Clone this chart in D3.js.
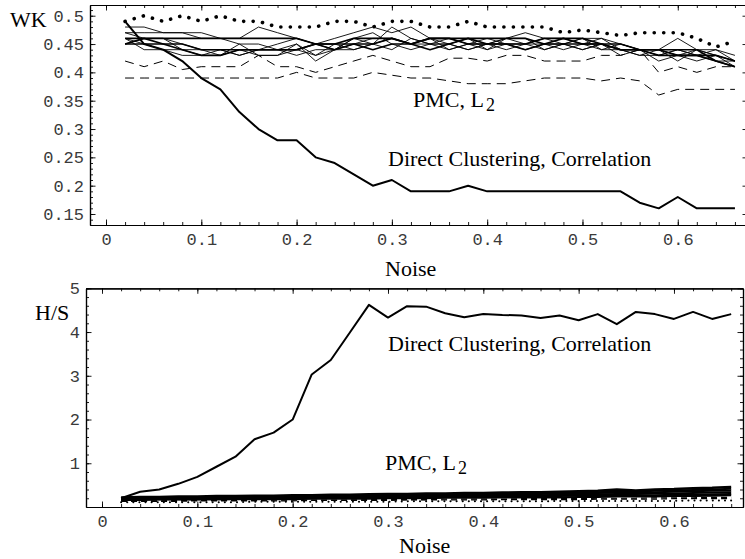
<!DOCTYPE html>
<html>
<head>
<meta charset="UTF-8" />
<script src="https://d3js.org/d3.v7.min.js"></script>
<title>WK and H/S vs Noise</title>
<style>
  body { margin: 0; background: white; }
  svg { display: block; }
  .lbl { font-family: "Liberation Serif", "Times New Roman", serif; font-size: 22px; fill: black; }
</style>
</head>
<body>
<svg id="chart" width="745" height="559"></svg>
<script>
// noise levels (x)
const noise = [0.02,0.04,0.06,0.08,0.10,0.12,0.14,0.16,0.18,0.20,0.22,0.24,0.26,0.28,0.30,0.32,0.34,
               0.36,0.38,0.40,0.42,0.44,0.46,0.48,0.50,0.52,0.54,0.56,0.58,0.60,0.62,0.64,0.66];

// ---- top panel: WK ----
const wkDirect = [0.49,0.45,0.44,0.42,0.39,0.37,0.33,0.30,0.28,0.28,0.25,0.24,0.22,0.20,0.21,0.19,0.19,
                  0.19,0.20,0.19,0.19,0.19,0.19,0.19,0.19,0.19,0.19,0.17,0.16,0.18,0.16,0.16,0.16];
const wkDotted = [0.49,0.50,0.49,0.50,0.49,0.50,0.49,0.49,0.48,0.48,0.48,0.49,0.49,0.48,0.49,0.49,0.48,
                  0.48,0.49,0.48,0.48,0.48,0.48,0.47,0.475,0.47,0.465,0.47,0.47,0.47,0.46,0.445,0.455];
const wkDashA = [0.42,0.41,0.42,0.405,0.41,0.41,0.41,0.43,0.41,0.41,0.40,0.41,0.42,0.43,0.42,0.41,0.41,
                 0.425,0.425,0.42,0.43,0.43,0.42,0.42,0.42,0.43,0.43,0.44,0.40,0.41,0.40,0.41,0.41];
const wkDashB = [0.39,0.39,0.39,0.39,0.39,0.39,0.39,0.39,0.39,0.40,0.39,0.39,0.39,0.40,0.395,0.39,0.39,
                 0.385,0.38,0.38,0.38,0.385,0.39,0.39,0.39,0.385,0.39,0.385,0.36,0.37,0.37,0.37,0.37];
const wkThin = [
  [0.48,0.48,0.47,0.47,0.47,0.46,0.46,0.48,0.47,0.46,0.45,0.46,0.47,0.48,0.47,0.48,0.46,
   0.45,0.44,0.45,0.46,0.47,0.46,0.46,0.45,0.46,0.44,0.43,0.44,0.46,0.44,0.44,0.43],
  [0.47,0.46,0.46,0.45,0.44,0.44,0.43,0.44,0.45,0.46,0.45,0.44,0.46,0.47,0.45,0.44,0.45,
   0.46,0.45,0.44,0.46,0.45,0.44,0.45,0.46,0.44,0.45,0.44,0.43,0.44,0.43,0.44,0.42],
  [0.46,0.45,0.44,0.44,0.43,0.43,0.44,0.43,0.43,0.45,0.42,0.44,0.45,0.46,0.46,0.45,0.45,
   0.45,0.44,0.45,0.44,0.45,0.46,0.45,0.44,0.45,0.44,0.43,0.43,0.44,0.43,0.42,0.42],
  [0.47,0.47,0.47,0.47,0.46,0.46,0.45,0.45,0.44,0.45,0.43,0.45,0.44,0.45,0.48,0.46,0.45,
   0.44,0.45,0.46,0.45,0.44,0.45,0.45,0.46,0.46,0.45,0.44,0.44,0.43,0.44,0.43,0.42],
  [0.45,0.46,0.46,0.44,0.44,0.43,0.45,0.43,0.43,0.44,0.43,0.44,0.44,0.45,0.44,0.46,0.45,
   0.45,0.46,0.44,0.45,0.45,0.45,0.44,0.45,0.44,0.44,0.44,0.42,0.43,0.42,0.43,0.42],
  [0.46,0.44,0.44,0.43,0.43,0.44,0.43,0.44,0.44,0.43,0.44,0.44,0.46,0.45,0.46,0.45,0.46,
   0.44,0.45,0.45,0.46,0.46,0.44,0.45,0.44,0.45,0.43,0.44,0.44,0.42,0.44,0.43,0.41]
];
const wkThick = [
  [0.46,0.46,0.46,0.46,0.46,0.46,0.46,0.46,0.46,0.46,0.45,0.45,0.46,0.46,0.46,0.45,0.46,
   0.46,0.46,0.46,0.46,0.46,0.45,0.45,0.45,0.45,0.44,0.44,0.44,0.43,0.43,0.43,0.42],
  [0.45,0.45,0.45,0.44,0.43,0.43,0.44,0.44,0.44,0.44,0.45,0.44,0.45,0.45,0.46,0.45,0.44,
   0.45,0.46,0.45,0.45,0.44,0.45,0.46,0.45,0.45,0.44,0.44,0.43,0.43,0.43,0.42,0.41],
  [0.45,0.46,0.45,0.45,0.44,0.44,0.44,0.44,0.44,0.44,0.45,0.45,0.45,0.44,0.45,0.45,0.46,
   0.46,0.45,0.45,0.45,0.45,0.46,0.46,0.46,0.45,0.45,0.44,0.44,0.44,0.44,0.42,0.41]
];

// ---- bottom panel: H/S ----
const hsDirect = [0.20,0.35,0.40,0.53,0.69,0.92,1.15,1.55,1.70,2.00,3.03,3.36,3.99,4.62,4.33,4.59,4.58,
                  4.43,4.34,4.41,4.39,4.38,4.32,4.38,4.27,4.41,4.18,4.46,4.41,4.30,4.46,4.30,4.41];
const hsSolid = [
  [0.22,0.23,0.23,0.24,0.24,0.25,0.25,0.26,0.26,0.27,0.27,0.28,0.28,0.29,0.30,0.30,0.31,
   0.31,0.32,0.32,0.33,0.34,0.34,0.35,0.36,0.37,0.40,0.38,0.40,0.41,0.43,0.44,0.46],
  [0.20,0.21,0.21,0.22,0.22,0.23,0.23,0.24,0.24,0.25,0.25,0.26,0.26,0.27,0.27,0.28,0.28,
   0.29,0.29,0.30,0.31,0.31,0.32,0.33,0.34,0.34,0.36,0.35,0.37,0.38,0.39,0.40,0.42],
  [0.19,0.20,0.20,0.21,0.21,0.21,0.22,0.22,0.23,0.23,0.24,0.24,0.25,0.25,0.26,0.26,0.27,
   0.27,0.28,0.28,0.29,0.29,0.30,0.31,0.31,0.32,0.33,0.33,0.34,0.35,0.36,0.37,0.38],
  [0.18,0.19,0.19,0.19,0.20,0.20,0.20,0.21,0.21,0.21,0.22,0.22,0.23,0.23,0.23,0.24,0.24,
   0.25,0.25,0.26,0.26,0.27,0.27,0.28,0.28,0.29,0.30,0.30,0.31,0.31,0.32,0.33,0.34],
  [0.17,0.17,0.18,0.18,0.18,0.19,0.19,0.19,0.20,0.20,0.20,0.21,0.21,0.21,0.22,0.22,0.22,
   0.23,0.23,0.24,0.24,0.24,0.25,0.25,0.26,0.26,0.27,0.27,0.27,0.28,0.28,0.29,0.30],
  [0.16,0.16,0.17,0.17,0.17,0.17,0.18,0.18,0.18,0.18,0.19,0.19,0.19,0.19,0.20,0.20,0.20,
   0.21,0.21,0.21,0.22,0.22,0.22,0.22,0.23,0.23,0.24,0.24,0.24,0.25,0.25,0.26,0.27]
];
const hsDash = [
  [0.14,0.14,0.14,0.15,0.15,0.15,0.15,0.15,0.16,0.16,0.16,0.16,0.16,0.17,0.17,0.17,0.17,
   0.18,0.18,0.18,0.18,0.19,0.19,0.19,0.19,0.20,0.20,0.20,0.21,0.21,0.21,0.22,0.22],
  [0.13,0.13,0.13,0.13,0.14,0.14,0.14,0.14,0.14,0.14,0.15,0.15,0.15,0.15,0.15,0.16,0.16,
   0.16,0.16,0.16,0.17,0.17,0.17,0.17,0.17,0.18,0.18,0.18,0.18,0.19,0.19,0.19,0.19]
];
const hsDotted = [0.11,0.11,0.11,0.11,0.11,0.11,0.11,0.12,0.12,0.12,0.12,0.12,0.12,0.12,0.12,0.13,0.13,
                  0.13,0.13,0.13,0.13,0.13,0.13,0.14,0.14,0.14,0.14,0.14,0.14,0.14,0.15,0.15,0.15];

// tick labels
const xTicks = [0,0.1,0.2,0.3,0.4,0.5,0.6];
const xTickLabels = ["0","0.1","0.2","0.3","0.4","0.5","0.6"];
const wkTicks = [0.15,0.2,0.25,0.3,0.35,0.4,0.45,0.5];
const wkTickLabels = ["0.15","0.2","0.25","0.3","0.35","0.4","0.45","0.5"];
const hsTicks = [1,2,3,4,5];
const hsTickLabels = ["1","2","3","4","5"];

const svg = d3.select("#chart");
svg.append("rect").attr("width", 745).attr("height", 559).attr("fill", "white");

function frame(g, x, y, xMinor, yMinor, xLab, yLab, pad) {
  const [x0, x1] = x.range();
  const [y0, y1] = y.range();
  const styleText = sel => sel.selectAll("text")
    .attr("font-family", "'Liberation Mono', 'Courier New', monospace")
    .attr("font-size", 17).attr("fill", "#3a3a3a");
  [[d3.axisBottom, y0, true], [d3.axisTop, y1, false]].forEach(([ax, pos, lab]) => {
    g.append("g").attr("transform", `translate(0,${pos})`)
      .call(ax(x).tickValues(xMinor).tickSize(-3).tickSizeOuter(0).tickFormat(""));
    const a = g.append("g").attr("transform", `translate(0,${pos})`)
      .call(ax(x).tickValues(xTicks).tickSize(-5.5).tickSizeOuter(0).tickPadding(8)
        .tickFormat((d, i) => lab ? xLab[i] : ""));
    styleText(a);
  });
  [[d3.axisLeft, x0, true], [d3.axisRight, x1, false]].forEach(([ax, pos, lab]) => {
    g.append("g").attr("transform", `translate(${pos},0)`)
      .call(ax(y).tickValues(yMinor).tickSize(-3).tickSizeOuter(0).tickFormat(""));
    const a = g.append("g").attr("transform", `translate(${pos},0)`)
      .call(ax(y).tickValues(yLab.vals).tickSize(-5.5).tickSizeOuter(0).tickPadding(pad)
        .tickFormat((d, i) => lab ? yLab.text[i] : ""));
    styleText(a);
  });
  g.selectAll(".domain").attr("stroke", "black").attr("stroke-width", 1.2);
  g.selectAll(".tick line").attr("stroke", "black").attr("stroke-width", 0.9);
}

function drawLine(g, x, y, vals, opts) {
  const line = d3.line().x((d, i) => x(noise[i])).y(d => y(d));
  g.append("path").datum(vals)
    .attr("d", line).attr("fill", "none").attr("stroke", "black")
    .attr("stroke-width", opts.w).attr("stroke-linejoin", "round")
    .attr("stroke-dasharray", opts.dash || null)
    .attr("stroke-linecap", opts.cap || "butt");
}

// ---- top panel ----
const xTop = d3.scaleLinear().domain([-0.0168, 0.6737]).range([90, 748]);
const yTop = d3.scaleLinear().domain([0.1306, 0.5189]).range([225, 5]);
const gTop = svg.append("g");
frame(gTop, xTop, yTop, d3.range(0, 0.67, 0.02), d3.range(0.14, 0.515, 0.01),
      xTickLabels, {vals: wkTicks, text: wkTickLabels}, 6);
const topLines = gTop.append("g");
drawLine(topLines, xTop, yTop, wkDashA, {w: 1, dash: "9,6"});
drawLine(topLines, xTop, yTop, wkDashB, {w: 1, dash: "9,6"});
wkThin.forEach(s => drawLine(topLines, xTop, yTop, s, {w: 0.9}));
wkThick.forEach(s => drawLine(topLines, xTop, yTop, s, {w: 1.6}));
drawLine(topLines, xTop, yTop, wkDotted, {w: 3.6, dash: "0.1,9.4", cap: "round"});
drawLine(topLines, xTop, yTop, wkDirect, {w: 2});

svg.append("text").attr("class", "lbl").attr("x", 10).attr("y", 27).attr("font-size", 20).text("WK");
const pmcTop = svg.append("text").attr("class", "lbl").attr("x", 413).attr("y", 107);
pmcTop.append("tspan").text("PMC, L");
pmcTop.append("tspan").attr("dx", 2).attr("dy", 4).attr("font-size", 18).text("2");
svg.append("text").attr("class", "lbl").attr("x", 388).attr("y", 166).text("Direct Clustering, Correlation");
svg.append("text").attr("class", "lbl").attr("x", 385).attr("y", 276).text("Noise");

// ---- bottom panel ----
const xBot = d3.scaleLinear().domain([-0.0168, 0.6724]).range([86, 743]);
const yBot = d3.scaleLinear().domain([0, 5]).range([507, 288.3]);
const gBot = svg.append("g");
frame(gBot, xBot, yBot, d3.range(0, 0.67, 0.02), d3.range(0.2, 5.01, 0.2),
      xTickLabels, {vals: hsTicks, text: hsTickLabels}, 6);
const botLines = gBot.append("g");
hsSolid.forEach((s, i) => drawLine(botLines, xBot, yBot, s, {w: i === 0 ? 2.4 : 2}));
hsDash.forEach(s => drawLine(botLines, xBot, yBot, s, {w: 1.2, dash: "6,4"}));
drawLine(botLines, xBot, yBot, hsDotted, {w: 2, dash: "0.1,6", cap: "round"});
drawLine(botLines, xBot, yBot, hsDirect, {w: 2});

svg.append("text").attr("class", "lbl").attr("x", 35).attr("y", 320).text("H/S");
svg.append("text").attr("class", "lbl").attr("x", 388).attr("y", 351).text("Direct Clustering, Correlation");
const pmcBot = svg.append("text").attr("class", "lbl").attr("x", 385).attr("y", 470);
pmcBot.append("tspan").text("PMC, L");
pmcBot.append("tspan").attr("dx", 2).attr("dy", 4).attr("font-size", 18).text("2");
svg.append("text").attr("class", "lbl").attr("x", 399).attr("y", 553).text("Noise");
</script>
</body>
</html>
